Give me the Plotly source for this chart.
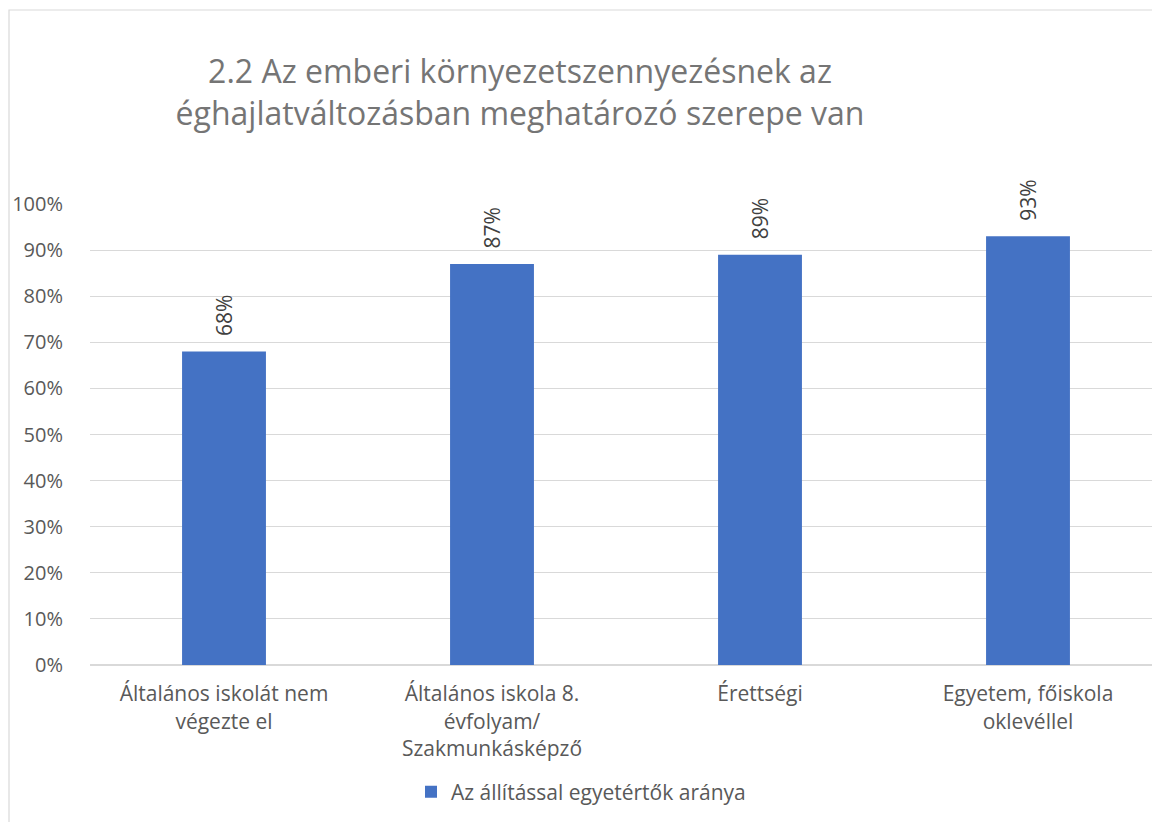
import plotly.graph_objects as go

categories = [
    "Általános iskolát nem<br>végezte el",
    "Általános iskola 8.<br>évfolyam/<br>Szakmunkásképző",
    "Érettségi",
    "Egyetem, főiskola<br>oklevéllel",
]
values = [68, 87, 89, 93]
value_labels = ["68%", "87%", "89%", "93%"]
series_name = "Az állítással egyetértők aránya"
title_text = "2.2 Az emberi környezetszennyezésnek az<br>éghajlatváltozásban meghatározó szerepe van"
y_ticks = [0, 10, 20, 30, 40, 50, 60, 70, 80, 90, 100]
y_tick_labels = [f"{v}%" for v in y_ticks]

W, H = 1152, 822
ML, MR, MT = 90, 0, 204
PLOT_BOTTOM = 665
MB = H - PLOT_BOTTOM
PW = W - ML - MR
PH = H - MT - MB
cat_px = 268.0

FONT = "Open Sans"
GREY = "#595959"

fig = go.Figure()
fig.add_trace(go.Bar(
    x=list(range(len(categories))),
    y=values,
    name=series_name,
    marker=dict(color="#4472C4", line=dict(width=0)),
    width=0.313,
    showlegend=True,
))

for i, (v, lab) in enumerate(zip(values, value_labels)):
    fig.add_annotation(
        x=i, y=v, xref="x", yref="y",
        text=lab, showarrow=False, textangle=-90,
        xanchor="center", yanchor="bottom", yshift=13,
        font=dict(family=FONT, size=21, color="#404040"),
    )

# outer chart border
fig.add_shape(
    type="rect", xref="paper", yref="paper",
    x0=(9 - ML) / PW, x1=1.2,
    y0=-0.6, y1=(PLOT_BOTTOM - 10) / PH,
    line=dict(color="#D9D9D9", width=1.2), fillcolor="rgba(0,0,0,0)", layer="below",
)

fig.update_layout(
    width=W, height=H,
    margin=dict(l=ML, r=MR, t=MT, b=MB, pad=0),
    paper_bgcolor="white", plot_bgcolor="white",
    font=dict(family=FONT, color=GREY),
    title=dict(
        text=title_text, xref="container", yref="container",
        x=520 / W, xanchor="center", y=1 - 83 / H, yanchor="top",
        font=dict(family=FONT, size=32, color="#757575"),
    ),
    bargap=0.687,
    xaxis=dict(
        range=[-0.5, -0.5 + PW / cat_px],
        tickmode="array", tickvals=list(range(len(categories))), ticktext=categories,
        tickfont=dict(family=FONT, size=21, color=GREY),
        showgrid=False, zeroline=False, showline=False,
        ticks="outside", ticklen=10, tickcolor="rgba(0,0,0,0)",
        fixedrange=True,
    ),
    yaxis=dict(
        range=[0, 100],
        tickmode="array", tickvals=y_ticks, ticktext=y_tick_labels,
        tickfont=dict(family=FONT, size=20, color=GREY),
        showgrid=True, gridcolor="#D9D9D9", gridwidth=1,
        zeroline=True, zerolinecolor="#D9D9D9", zerolinewidth=1.5,
        showline=False,
        ticks="outside", ticklen=22, tickcolor="rgba(0,0,0,0)",
        fixedrange=True,
    ),
    legend=dict(
        orientation="h", x=(581 - ML) / PW, xanchor="center",
        y=(PLOT_BOTTOM - 792) / PH, yanchor="middle",
        font=dict(family=FONT, size=21, color=GREY),
        bgcolor="rgba(0,0,0,0)",
    ),
)

fig.write_html(
    "out.html",
    config={"displayModeBar": False},
    post_script="document.body.style.margin='0px'; document.body.style.overflow='hidden';",
)
